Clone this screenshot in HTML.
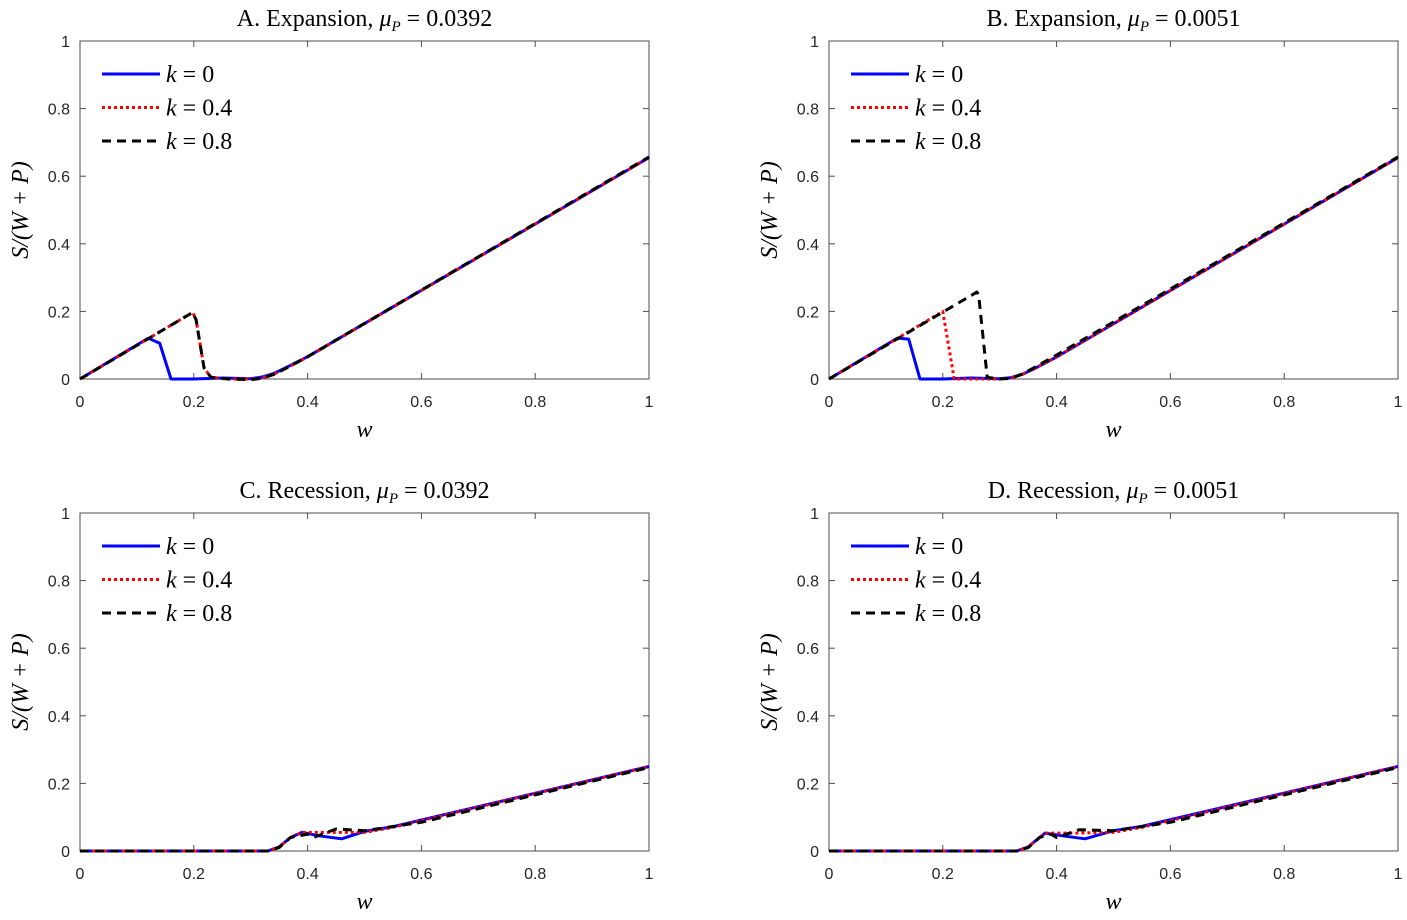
<!DOCTYPE html>
<html><head><meta charset="utf-8"><style>
body{margin:0;background:#fff}
svg text{font-family:"Liberation Sans",sans-serif}
.serif{font-family:"Liberation Serif",serif}
</style></head><body>
<svg id="fig" width="1407" height="915" xmlns="http://www.w3.org/2000/svg"></svg>
<script>
const xTicks=[0,0.2,0.4,0.6,0.8,1];
const yTicks=[0,0.2,0.4,0.6,0.8,1];
const xTickLabels=["0","0.2","0.4","0.6","0.8","1"];
const yTickLabels=["0","0.2","0.4","0.6","0.8","1"];
const titles=["A. Expansion, ","B. Expansion, ","C. Recession, ","D. Recession, "];
const muVals=["0.0392","0.0051","0.0392","0.0051"];
const seriesNames=["k = 0","k = 0.4","k = 0.8"];
// panel A
const aBlueX=[0,0.12,0.14,0.16,0.2,0.25,0.3,0.32,0.34,0.36,0.4,1];
const aBlueY=[0,0.121,0.106,0,0,0.003,0.001,0.006,0.016,0.032,0.066,0.655];
const aRedX=[0,0.198,0.204,0.218,0.23,0.26,0.3,0.32,0.34,0.36,0.4,1];
const aRedY=[0,0.197,0.175,0.033,0.005,0,0,0.003,0.014,0.03,0.065,0.655];
const aBlackX=aRedX;
const aBlackY=[0,0.197,0.175,0.033,0.005,0,-0.002,0.002,0.013,0.03,0.066,0.657];
// panel B
const bBlueX=[0,0.12,0.14,0.16,0.2,0.25,0.3,0.32,0.34,0.36,0.4,1];
const bBlueY=[0,0.121,0.118,0,0,0.003,0.001,0.004,0.014,0.03,0.065,0.655];
const bRedX=[0,0.2,0.22,0.25,0.3,0.32,0.34,0.36,0.4,1];
const bRedY=[0,0.2,0,0,0,0.003,0.014,0.03,0.065,0.655];
const bBlackX=[0,0.26,0.263,0.278,0.3,0.32,0.34,0.36,0.4,1];
const bBlackY=[0,0.257,0.25,0.005,0,0.002,0.015,0.033,0.071,0.657];
// panel C
const cBlueX=[0,0.33,0.35,0.37,0.39,0.42,0.46,0.5,0.55,1];
const cBlueY=[0,0,0.012,0.04,0.055,0.045,0.036,0.058,0.072,0.25];
const cRedX=[0,0.33,0.35,0.37,0.39,0.43,0.5,0.55,1];
const cRedY=[0,0,0.012,0.04,0.055,0.055,0.055,0.07,0.25];
const cBlackX=[0,0.33,0.35,0.37,0.4,0.41,0.45,0.5,0.6,1];
const cBlackY=[0,0,0.01,0.04,0.05,0.04,0.065,0.06,0.085,0.247];
// panel D
const dBlueX=[0,0.33,0.35,0.37,0.38,0.41,0.45,0.5,0.55,1];
const dBlueY=[0,0,0.012,0.04,0.053,0.045,0.036,0.06,0.073,0.25];
const dRedX=[0,0.33,0.35,0.37,0.38,0.43,0.5,0.55,1];
const dRedY=[0,0,0.012,0.04,0.053,0.053,0.055,0.07,0.25];
const dBlackX=[0,0.33,0.35,0.37,0.39,0.4,0.44,0.5,0.6,1];
const dBlackY=[0,0,0.01,0.04,0.05,0.04,0.063,0.06,0.085,0.247];

const panels=[
 {x0:80,x1:649,yt:41,yb:379,s:[[aBlueX,aBlueY],[aRedX,aRedY],[aBlackX,aBlackY]]},
 {x0:829,x1:1398,yt:41,yb:379,s:[[bBlueX,bBlueY],[bRedX,bRedY],[bBlackX,bBlackY]]},
 {x0:80,x1:649,yt:513,yb:851,s:[[cBlueX,cBlueY],[cRedX,cRedY],[cBlackX,cBlackY]]},
 {x0:829,x1:1398,yt:513,yb:851,s:[[dBlueX,dBlueY],[dRedX,dRedY],[dBlackX,dBlackY]]}
];
const styles=[{c:"#0000ff",d:""},{c:"#ff0000",d:"3,3"},{c:"#000000",d:"9,6"}];
const NS="http://www.w3.org/2000/svg";
const svg=document.getElementById('fig');
function mk(t,a,p){const e=document.createElementNS(NS,t);for(const k in a)e.setAttribute(k,a[k]);(p||svg).appendChild(e);return e;}
const seriesKeys=["k0","k04","k08"];
panels.forEach((P,i)=>{
 const g=mk('g',{});
 
 
 const sx=v=>P.x0+v*(P.x1-P.x0), sy=v=>P.yb-v*(P.yb-P.yt);
 const fr=mk('rect',{x:P.x0,y:P.yt,width:P.x1-P.x0,height:P.yb-P.yt,fill:'none',stroke:'#4d4d4d','stroke-width':1},g);
 
 
 xTicks.forEach((v,j)=>{
  mk('line',{x1:sx(v),x2:sx(v),y1:P.yb,y2:P.yb-6,stroke:'#4d4d4d'},g);
  mk('line',{x1:sx(v),x2:sx(v),y1:P.yt,y2:P.yt+6,stroke:'#4d4d4d'},g);
  const t=mk('text',{x:sx(v),y:P.yb+28,'text-anchor':'middle','font-size':16,fill:'#262626'},g);
  t.textContent=xTickLabels[j];
  
  
 });
 yTicks.forEach((v,j)=>{
  mk('line',{x1:P.x0,x2:P.x0+6,y1:sy(v),y2:sy(v),stroke:'#4d4d4d'},g);
  mk('line',{x1:P.x1,x2:P.x1-6,y1:sy(v),y2:sy(v),stroke:'#4d4d4d'},g);
  const t=mk('text',{x:P.x0-10,y:sy(v)+6,'text-anchor':'end','font-size':16,fill:'#262626'},g);
  t.textContent=yTickLabels[j];
  
  
 });
 const ti=mk('text',{x:(P.x0+P.x1)/2,y:P.yt-15,'text-anchor':'middle','font-size':24,class:'serif'},g);
 ti.innerHTML=titles[i]+'<tspan font-style="italic">μ</tspan><tspan font-style="italic" font-size="15" dy="5">P</tspan><tspan dy="-5"> = '+muVals[i]+'</tspan>';
 
 
 const xl=mk('text',{x:(P.x0+P.x1)/2,y:P.yb+58,'text-anchor':'middle','font-size':24,'font-style':'italic',class:'serif'},g);
 xl.textContent='w';
 
 
 const yl=mk('text',{x:0,y:0,'text-anchor':'middle','font-size':24,'font-style':'italic',class:'serif',transform:`translate(${P.x0-52},${(P.yt+P.yb)/2}) rotate(-90)`},g);
 yl.textContent='S/(W + P)';
 
 
 P.s.forEach((s,k)=>{
  const pts=s[0].map((x,n)=>sx(x).toFixed(1)+','+sy(s[1][n]).toFixed(1)).join(' ');
  const pl=mk('polyline',{points:pts,fill:'none',stroke:styles[k].c,'stroke-width':3,'stroke-dasharray':styles[k].d,'stroke-linejoin':'round'},g);
  
  
 });
 seriesNames.forEach((nm,k)=>{
  const ly=P.yt+33+k*33.5;
  const le=mk('g',{},g);
  
  
  mk('line',{x1:P.x0+22,x2:P.x0+80,y1:ly,y2:ly,stroke:styles[k].c,'stroke-width':3,'stroke-dasharray':styles[k].d},le);
  const t=mk('text',{x:P.x0+86,y:ly+8,'font-size':24,class:'serif'},le);
  t.innerHTML='<tspan font-style="italic">k</tspan>'+nm.slice(1);
 });
});
</script>
</body></html>
